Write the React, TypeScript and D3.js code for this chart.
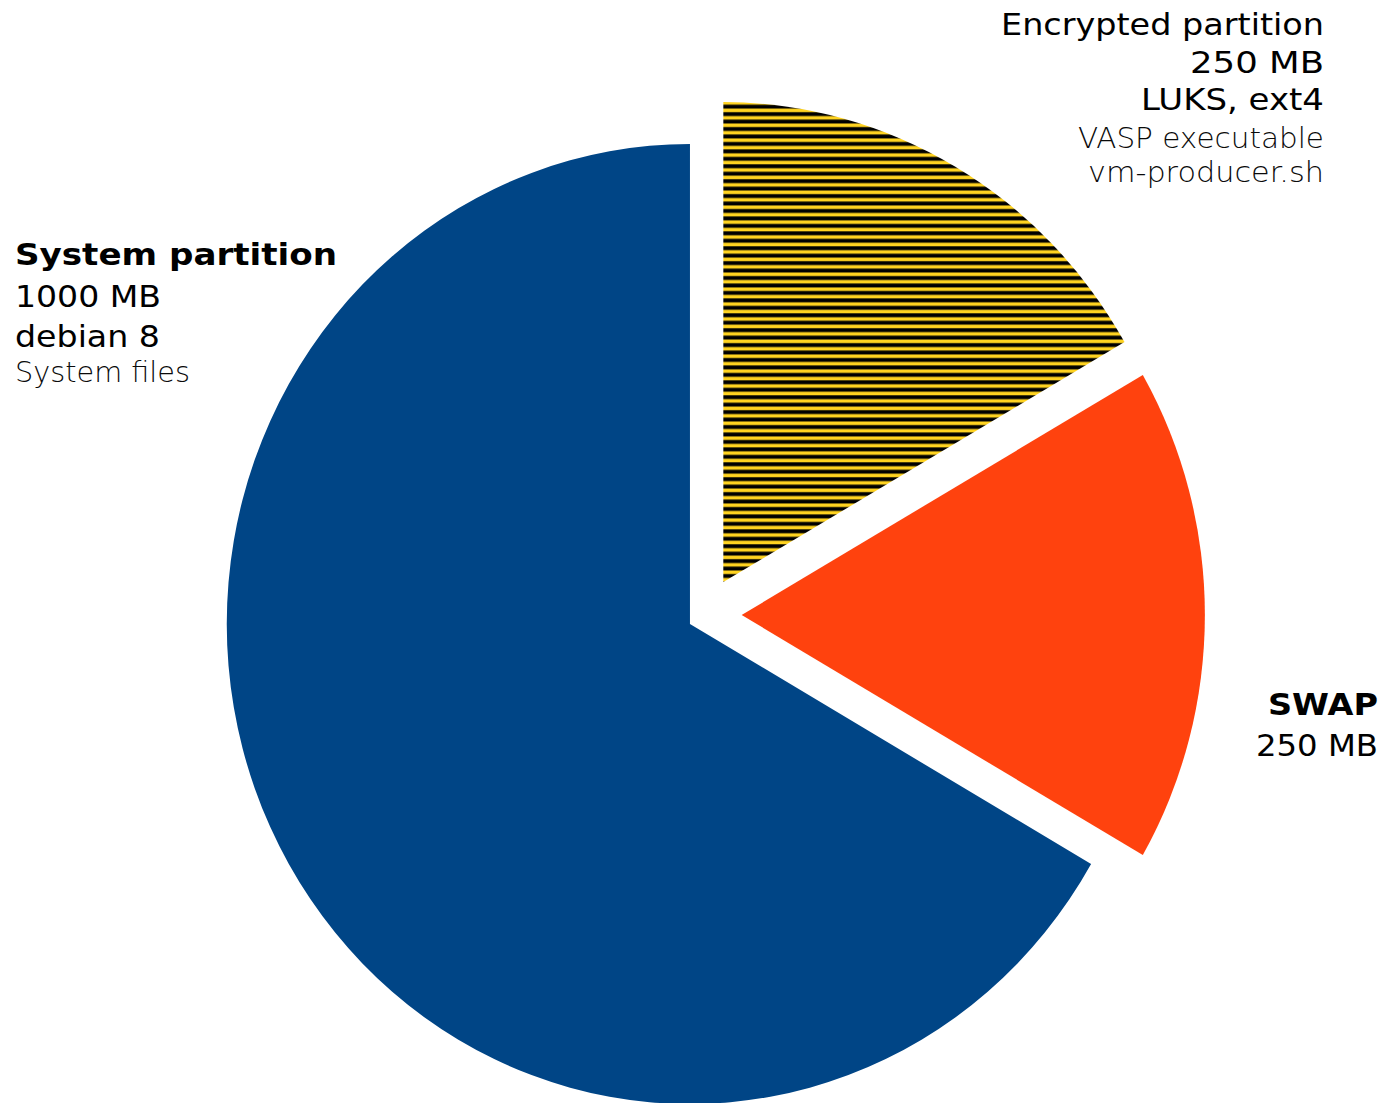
import React from "react";
import * as d3 from "d3";

// ---- data ----
const partitions = ["Encrypted partition", "SWAP", "System partition"];
const sizesMB = [250, 250, 1000];
const sliceColors = ["#FFD320", "#FF420E", "#004586"];
const explodeDist = [38, 38, 18];

const systemLabel = ["System partition", "1000 MB", "debian 8", "System files"];
const encryptedLabel = ["Encrypted partition", "250 MB", "LUKS, ext4", "VASP executable", "vm-producer.sh"];
const swapLabel = ["SWAP", "250 MB"];

// ---- layout ----
const W = 1384;
const H = 1103;
const CX = 705;
const CY = 615;
const R = 480;
const SX = 0.965;
const FONT = "'DejaVu Sans', Verdana, sans-serif";
const LIGHT_FONT = "'DejaVu Sans ExtraLight', 'DejaVu Sans Light', 'DejaVu Sans', sans-serif";

type LineStyle = { y: number; w: number; size: number; weight: string | number; light?: boolean };

const systemStyles: LineStyle[] = [
  { y: 265, w: 322, size: 30, weight: "bold" },
  { y: 307, w: 146, size: 30, weight: "normal" },
  { y: 347, w: 145, size: 30, weight: "normal" },
  { y: 382, w: 175, size: 29, weight: 200, light: true },
];
const encryptedStyles: LineStyle[] = [
  { y: 35, w: 323, size: 30, weight: "normal" },
  { y: 73, w: 134, size: 30, weight: "normal" },
  { y: 110, w: 183, size: 30, weight: "normal" },
  { y: 148, w: 246, size: 29, weight: 200, light: true },
  { y: 182, w: 236, size: 29, weight: 200, light: true },
];
const swapStyles: LineStyle[] = [
  { y: 715, w: 110, size: 30, weight: "bold" },
  { y: 756, w: 122, size: 30, weight: "normal" },
];

function Label({ lines, styles, x, anchor }: { lines: string[]; styles: LineStyle[]; x: number; anchor: "start" | "end" }) {
  return (
    <g>
      {lines.map((t, i) => {
        const s = styles[i];
        return (
          <text
            key={i}
            x={x}
            y={s.y}
            textAnchor={anchor}
            fontFamily={s.light ? LIGHT_FONT : FONT}
            fontSize={s.size}
            fontWeight={s.weight}
            fill={s.light ? "#0a0a0a" : "#000"}
            textLength={s.w}
            lengthAdjust="spacingAndGlyphs"
          >
            {t}
          </text>
        );
      })}
    </g>
  );
}

export default function App() {
  const pie = d3
    .pie<number>()
    .sort(null)
    .value((d) => d)
    .startAngle(0)
    .endAngle(2 * Math.PI);
  const arcs = pie(sizesMB);
  const arc = d3.arc<d3.PieArcDatum<number>>().innerRadius(0).outerRadius(R);

  const offsets = arcs.map((a, i) => {
    const mid = (a.startAngle + a.endAngle) / 2;
    return {
      x: CX + Math.sin(mid) * explodeDist[i] * SX,
      y: CY - Math.cos(mid) * explodeDist[i],
    };
  });

  const hatchY = 103.5 - offsets[0].y;

  return (
    <svg
      width={W}
      height={H}
      style={{ position: "absolute", left: 0, top: 0, background: "#fff" }}
    >
      <defs>
        <pattern id="hatch" patternUnits="userSpaceOnUse" x={0} y={hatchY} width={20} height={7.45}>
          <rect x={0} y={0} width={20} height={7.45} fill={sliceColors[0]} />
          <rect x={0} y={1.2} width={20} height={3.9} fill="#000" />
        </pattern>
      </defs>
      {arcs.map((a, i) => (
        <path
          key={partitions[i]}
          d={arc(a) || ""}
          transform={`translate(${offsets[i].x},${offsets[i].y}) scale(${SX},1)`}
          fill={i === 0 ? "url(#hatch)" : sliceColors[i]}
        />
      ))}
      <Label lines={systemLabel} styles={systemStyles} x={15} anchor="start" />
      <Label lines={encryptedLabel} styles={encryptedStyles} x={1324} anchor="end" />
      <Label lines={swapLabel} styles={swapStyles} x={1378} anchor="end" />
    </svg>
  );
}
